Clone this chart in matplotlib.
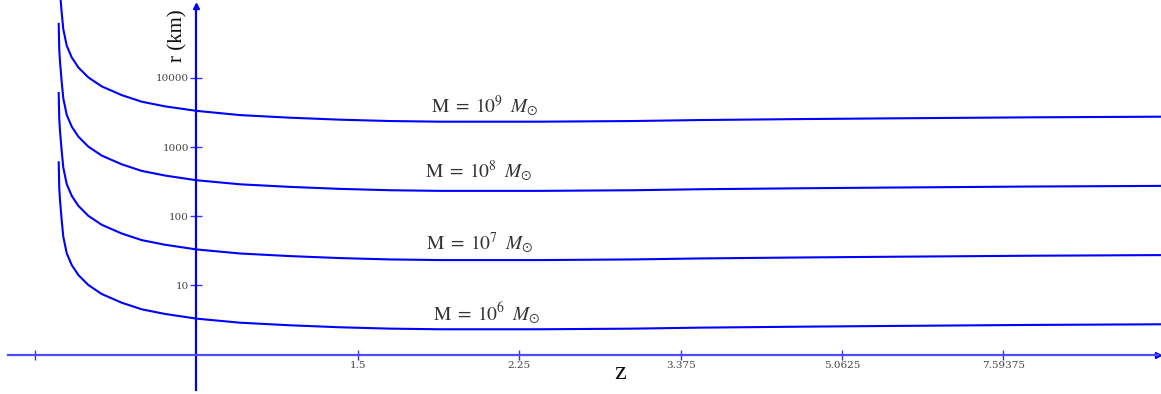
import numpy as np
import matplotlib.pyplot as plt

# redshift samples (shared by all curves)
z = [0.7074, 0.7084, 0.7097, 0.7127, 0.7156, 0.7218, 0.7309, 0.7431, 0.7620,
     0.7881, 0.8287, 0.8714, 0.9239, 1.0, 1.1155, 1.2648, 1.434, 1.626, 1.844,
     2.090, 2.370, 2.994, 3.543, 4.556, 5.668, 8.057, 11.25]

# r (km) for each black hole mass
r_1e6 = [603, 254, 172, 88.4, 50.7, 29.2, 19.8, 14.2, 10.17, 7.54, 5.64, 4.53,
         3.88, 3.32, 2.90, 2.66, 2.49, 2.38, 2.33, 2.33, 2.33, 2.38, 2.46, 2.54,
         2.60, 2.69, 2.75]
r_1e7 = [6030, 2540, 1720, 884, 507, 292, 198, 142, 101.7, 75.4, 56.4, 45.3,
         38.8, 33.2, 29.0, 26.6, 24.9, 23.8, 23.3, 23.3, 23.3, 23.8, 24.6, 25.4,
         26.0, 26.9, 27.5]
r_1e8 = [60300, 25400, 17200, 8840, 5070, 2920, 1980, 1420, 1017, 754, 564, 453,
         388, 332, 290, 266, 249, 238, 233, 233, 233, 238, 246, 254, 260, 269, 275]
r_1e9 = [603000, 254000, 172000, 88400, 50700, 29200, 19800, 14200, 10170, 7540,
         5640, 4530, 3880, 3340, 2900, 2660, 2490, 2380, 2330, 2330, 2330, 2380,
         2460, 2540, 2600, 2690, 2750]

labels = [r'$\mathrm{M}\;=\;10^{6}\;\;M_{\odot}$', r'$\mathrm{M}\;=\;10^{7}\;\;M_{\odot}$',
          r'$\mathrm{M}\;=\;10^{8}\;\;M_{\odot}$', r'$\mathrm{M}\;=\;10^{9}\;\;M_{\odot}$']

xticks = [0.6667, 1.5, 2.25, 3.375, 5.0625, 7.59375]
xticklabels = ['', '1.5', '2.25', '3.375', '5.0625', '7.59375']
yticks = [10, 100, 1000, 10000]
yticklabels = ['10', '100', '1000', '10000']

plt.rcParams['mathtext.fontset'] = 'stix'

fig = plt.figure(figsize=(11.61, 3.94), dpi=100)
ax = fig.add_axes([0, 0, 1, 1])
ax.set_xscale('log')
ax.set_yscale('log')

for r in (r_1e6, r_1e7, r_1e8, r_1e9):
    ax.plot(z, r, color='#0000ff', lw=1.5, solid_joinstyle='round')

ax.set_xlim(0.6104, 11.28)
ax.set_ylim(10 ** -0.568, 10 ** 5.1257)

# axes crossing at z=1, r=1
for s in ('top', 'right'):
    ax.spines[s].set_visible(False)
ax.spines['left'].set_position(('data', 1))
ax.spines['bottom'].set_position(('data', 1))
ax.spines['left'].set_bounds(10 ** -0.51, 10 ** 5.04)
ax.spines['bottom'].set_bounds(0.6228, 11.2)
ax.spines['left'].set_color('#0000ff')
ax.spines['left'].set_linewidth(1.6)
ax.spines['bottom'].set_color('#4d4dff')
ax.spines['bottom'].set_linewidth(1.6)
ax.plot(1, 10 ** 5.04, marker='^', color='#0000ff', ms=5, clip_on=False)
ax.plot(11.2, 1, marker='>', color='#0000ff', ms=5, clip_on=False)

ax.minorticks_off()
ax.set_xticks(xticks)
ax.set_xticklabels(xticklabels)
ax.set_yticks(yticks)
ax.set_yticklabels(yticklabels)
ax.tick_params(axis='x', direction='inout', length=7, width=1, color='#3333ff',
               pad=1, labelsize=7.5, labelcolor='#444444')
ax.tick_params(axis='y', direction='inout', length=9, width=1, color='#3333ff',
               pad=1, labelsize=7.5, labelcolor='#444444')
for t in ax.get_xticklabels() + ax.get_yticklabels():
    t.set_family('DejaVu Serif')

# curve labels
label_pos = [(486.7, 313.3), (480, 243), (479, 171.7), (485, 106.7)]
for (px, py), lab in zip(label_pos, labels):
    fig.text(px / 1161, 1 - py / 394, lab, ha='center', va='center',
             fontsize=14, color='#333333')

fig.text(178 / 1161, 1 - 36 / 394, 'r (km)', rotation=90, ha='center',
         va='center', fontsize=15, family='Liberation Serif', color='#111111')
fig.text(620 / 1161, 1 - 373 / 394, 'z', ha='center', va='center',
         fontsize=19, family='Liberation Serif', color='#111111')

fig.savefig('out.png', dpi=100)
